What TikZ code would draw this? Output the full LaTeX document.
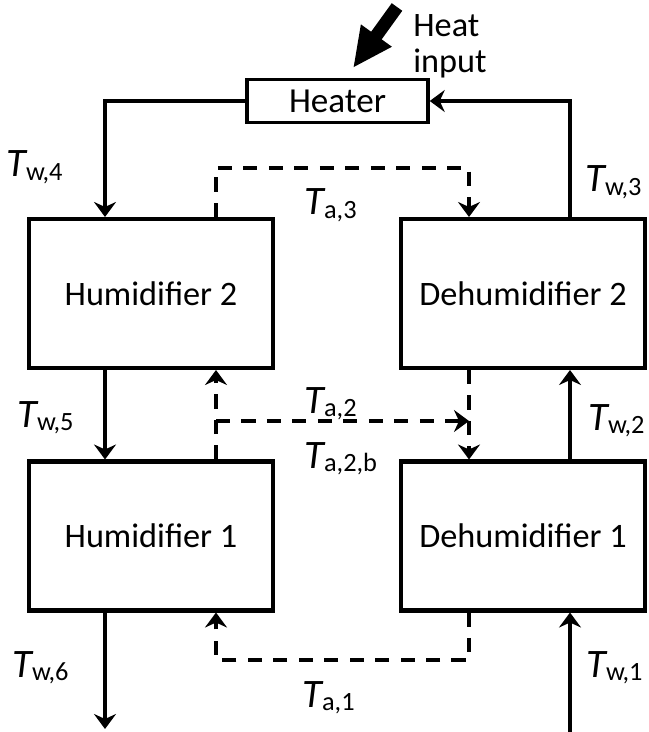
\documentclass[tikz,border=0pt]{standalone}
\usepackage{fontspec}
\setmainfont{Carlito}
\usetikzlibrary{arrows.meta}

\newcommand{\templabel}[1]{{\fontsize{23}{24}\selectfont\itshape T}\raisebox{-2pt}{\fontsize{15}{16}\selectfont #1}}

\tikzset{
  block/.style={draw,line width=2.3pt,inner sep=0pt,minimum width=4.88cm,minimum height=2.98cm,font=\fontsize{19.5}{22}\selectfont},
  heaterbox/.style={draw,line width=2pt,inner sep=0pt,minimum width=3.62cm,minimum height=0.86cm,font=\fontsize{20}{22}\selectfont},
  water/.style={line width=1.8pt,-{Stealth[length=0.3cm,width=0.44cm,inset=0.1cm]}},
  air/.style={line width=2.4pt,dash pattern=on 8pt off 6.5pt,-{Stealth[length=0.3cm,width=0.44cm,inset=0.1cm]}},
  lbl/.style={inner sep=0pt,anchor=base west}
}

\begin{document}
\begin{tikzpicture}[x=0.02cm,y=-0.02cm]
  \useasboundingbox (0,0) rectangle (648,732);
  % components
  \node[heaterbox] (heater) at (337.5,101) {Heater};
  \node[block] (hum2)   at (151,293.5) {Humidifier 2};
  \node[block] (dehum2) at (523,293.5) {Dehumidifier 2};
  \node[block] (hum1)   at (151,536)   {Humidifier 1};
  \node[block] (dehum1) at (523,536)   {Dehumidifier 1};

  % columns and corners of the streams
  \coordinate (cw) at (105,0);
  \coordinate (ca) at (216,0);
  \coordinate (cd) at (469,0);
  \coordinate (cv) at (570,0);
  \coordinate (a3) at (216,168);
  \coordinate (a2) at (216,421);
  \coordinate (a1) at (216,660);
  \coordinate (wout) at (105,729);
  \coordinate (win) at (570,732);
  \coordinate (heatsrc) at (397,7);
  \coordinate (heattip) at (353,68);

  % heat input
  \draw[line width=0.26cm,-{Triangle[length=0.8cm,width=0.7cm]}] (heatsrc) -- (heattip);
  \node[lbl,font=\fontsize{19.5}{22}\selectfont] (heat) at (413,37) {Heat};
  \node[lbl,font=\fontsize{19.5}{22}\selectfont] (input) at (413,73) {input};

  % water
  \draw[water] (heater.west) -| (cw |- hum2.north);
  \draw[water] (cv |- dehum2.north) |- (heater.east);
  \draw[water] (cw |- hum2.south) -- (cw |- hum1.north);
  \draw[water] (cv |- dehum1.north) -- (cv |- dehum2.south);
  \draw[water] (cw |- hum1.south) -- (wout);
  \draw[water,line width=2.6pt] (win) -- (cv |- dehum1.south);

  % air
  \draw[air] (ca |- hum2.north) -- (a3) -| (cd |- dehum2.north);
  \draw[air] (ca |- hum1.north) -- (ca |- hum2.south);
  \draw[air] (a2) -- (cd |- a2);
  \draw[air] (cd |- dehum2.south) -- (cd |- dehum1.north);
  \draw[air] (cd |- dehum1.south) |- (a1) -- (ca |- hum1.south);

  % temperatures
  \node[lbl] (tw4) at (6,177)   {\templabel{w,4}};
  \node[lbl] (tw3) at (585,192) {\templabel{w,3}};
  \node[lbl] (ta3) at (304,215) {\templabel{a,3}};
  \node[lbl] (tw5) at (17,427)  {\templabel{w,5}};
  \node[lbl] (ta2) at (304,413) {\templabel{a,2}};
  \node[lbl] (ta2b) at (304,468) {\templabel{a,2,b}};
  \node[lbl] (tw2) at (588,430) {\templabel{w,2}};
  \node[lbl] (tw6) at (12,677)  {\templabel{w,6}};
  \node[lbl] (ta1) at (302,707) {\templabel{a,1}};
  \node[lbl] (tw1) at (586,677) {\templabel{w,1}};
\end{tikzpicture}
\end{document}
